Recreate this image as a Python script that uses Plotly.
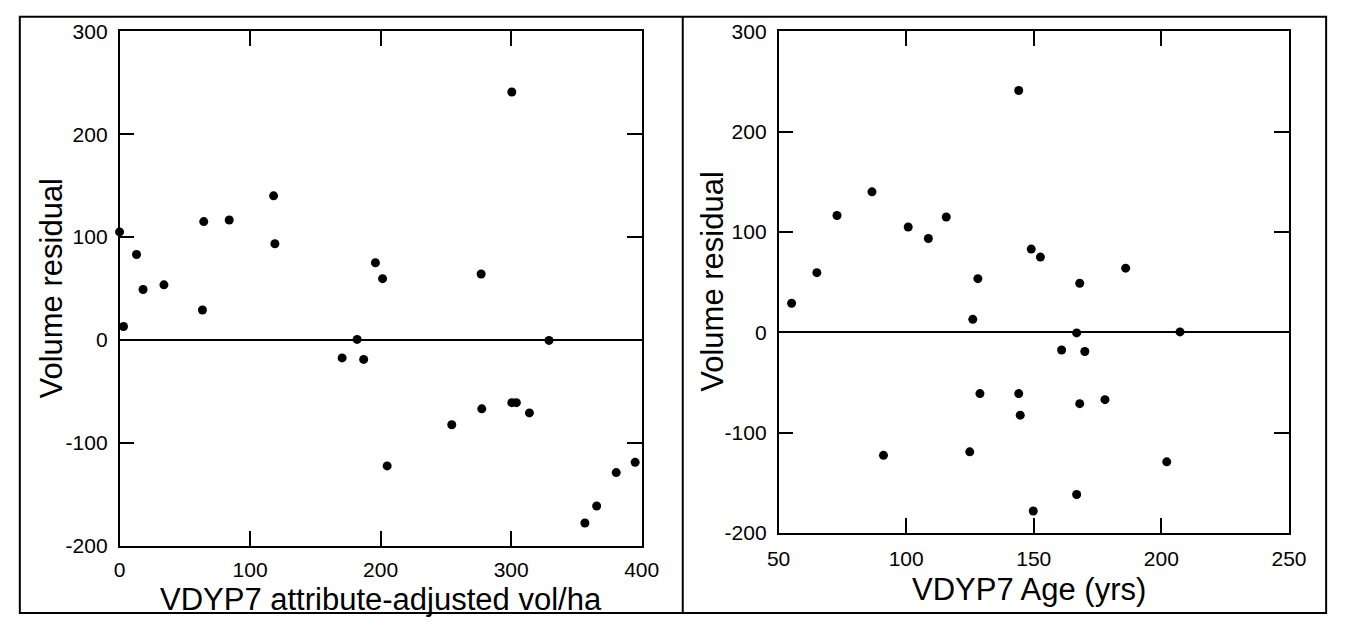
import plotly.graph_objects as go

# Per-plot residuals, with the matching attribute-adjusted volume and age
vol_ha = [0, 3, 13, 18, 34, 63.5, 64.5, 84, 118, 119,
          170.5, 182, 187, 196, 201.5, 205, 254.5, 277, 277.5, 300.5,
          300.5, 304, 314, 329, 356.5, 365.5, 380.5, 395]
age = [100.8, 126.1, 149, 168, 128.1, 55.1, 115.7, 72.9, 86.6, 108.7,
       160.9, 207.3, 170, 152.6, 65, 91.1, 144.7, 186, 177.9, 144.1,
       128.9, 144.1, 168, 166.8, 149.8, 166.8, 202.1, 124.9]
residual = [105, 13, 83, 49, 53.5, 29, 115, 116.5, 140, 93.5,
            -17.5, 0.5, -19, 75, 59.5, -122.5, -82.5, 64, -67, 241,
            -61, -61, -71, -0.5, -178, -161.5, -129, -119]

x1_ticks = [0, 100, 200, 300, 400]
x2_ticks = [50, 100, 150, 200, 250]
y_ticks = [-200, -100, 0, 100, 200, 300]
y_tick_labels = ["-200", "-100", "0", "100", "200", "300"]

W, H = 1350, 626
FONT = "Liberation Sans, Arial, sans-serif"


def px_x(p):
    return p / W


def px_y(p):
    return 1 - p / H


fig = go.Figure()
fig.add_trace(go.Scatter(x=vol_ha, y=residual, mode="markers", xaxis="x", yaxis="y",
                         marker=dict(color="black", size=9), cliponaxis=False,
                         showlegend=False))
fig.add_trace(go.Scatter(x=age, y=residual, mode="markers", xaxis="x2", yaxis="y2",
                         marker=dict(color="black", size=9), cliponaxis=False,
                         showlegend=False))

common = dict(showgrid=False, showline=True, linecolor="black", linewidth=1.5,
              mirror="ticks", ticks="inside", ticklen=15, tickwidth=1.5,
              tickcolor="black", tickfont=dict(family=FONT, size=21, color="black"))

fig.update_layout(
    width=W, height=H,
    margin=dict(l=0, r=0, t=0, b=0),
    paper_bgcolor="white", plot_bgcolor="white",
    font=dict(family=FONT, color="black"),
    xaxis=dict(domain=[px_x(110), px_x(644)], range=[0, 400], tickvals=x1_ticks,
               zeroline=False, anchor="y", ticklabelstandoff=4, **common),
    yaxis=dict(domain=[px_y(554), px_y(20)], range=[-200, 300], tickvals=y_ticks,
               ticktext=y_tick_labels,
               zeroline=True, zerolinecolor="black", zerolinewidth=1.5,
               anchor="x", ticklabelstandoff=6, **common),
    xaxis2=dict(domain=[px_x(784), px_x(1306)], range=[50, 250], tickvals=x2_ticks,
                zeroline=False, anchor="y2", ticklabelstandoff=6, **common),
    yaxis2=dict(domain=[px_y(541), px_y(20)], range=[-200, 300], tickvals=y_ticks,
                ticktext=y_tick_labels,
                zeroline=True, zerolinecolor="black", zerolinewidth=1.5,
                anchor="x2", ticklabelstandoff=6, **common),
)

# Outer frame and the panel divider
fig.add_shape(type="rect", xref="paper", yref="paper",
              x0=px_x(8), x1=px_x(1344), y0=px_y(624), y1=px_y(5),
              line=dict(color="black", width=2))
fig.add_shape(type="line", xref="paper", yref="paper",
              x0=px_x(686), x1=px_x(686), y0=px_y(624), y1=px_y(5),
              line=dict(color="black", width=2))

title_font = dict(family=FONT, size=31, color="black")
fig.add_annotation(text="VDYP7 attribute-adjusted vol/ha", xref="paper", yref="paper",
                   x=px_x(377), y=px_y(610), showarrow=False, font=title_font,
                   xanchor="center", yanchor="middle")
fig.add_annotation(text="VDYP7 Age (yrs)", xref="paper", yref="paper",
                   x=px_x(1040), y=px_y(600), showarrow=False, font=title_font,
                   xanchor="center", yanchor="middle")
fig.add_annotation(text="Volume residual", xref="paper", yref="paper",
                   x=px_x(40), y=px_y(287), showarrow=False, font=title_font,
                   textangle=-90, xanchor="center", yanchor="middle")
fig.add_annotation(text="Volume residual", xref="paper", yref="paper",
                   x=px_x(717), y=px_y(280), showarrow=False, font=title_font,
                   textangle=-90, xanchor="center", yanchor="middle")

# Page body without default margin so the figure sits flush in the window
fig.write_html("out.html", post_script="document.body.style.margin='0';")
